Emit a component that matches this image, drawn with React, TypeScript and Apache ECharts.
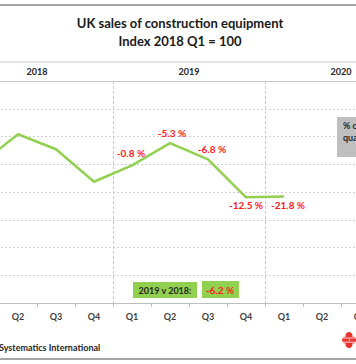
import React, { useEffect, useRef } from 'react';
import * as echarts from 'echarts';

const quarterLabels = ['Q1', 'Q2', 'Q3', 'Q4', 'Q1', 'Q2', 'Q3', 'Q4', 'Q1', 'Q2', 'Q3', 'Q4'];
const yearLabels = ['2018', '2019', '2020'];
const indexValues: (number | null)[] = [100, 121.6, 110.8, 87.4, 99.2, 115.2, 103.5, 76.2, 76.8, null, null, null];
const changeLabels = ['', '', '', '', '-0.8 %', '-5.3 %', '-6.8 %', '-12.5 %', '-21.8 %', '', '', ''];
const labelPlacement = ['', '', '', '', 'top', 'top', 'top', 'bottom', 'bottom', '', '', ''];
const yMin = 0;
const yMax = 160;
const yInterval = 20;
const titleLines = ['UK sales of construction equipment', 'Index 2018 Q1 = 100'];
const summaryLabel = '2019 v 2018:';
const summaryValue = '-6.2 %';
const noteLines = ['% change on same', 'quarter previous year'];
const footerText = 'Systematics International';

const FONT = 'Lato, "Open Sans", sans-serif';
const GREEN = '#92d050';
const RED = '#ff1a1a';
// the chart canvas extends beyond the visible frame (cropped view)
const OX = 39;
const CHART_W = 456;

export default function App() {
  const ref = useRef<HTMLDivElement>(null);
  useEffect(() => {
    if (!ref.current) return;
    const chart = echarts.init(ref.current, undefined, { renderer: 'svg' });
    const data = indexValues.map((v, i) => {
      const pos = labelPlacement[i];
      if (!pos) return { value: v, label: { show: false } };
      return {
        value: v,
        label: {
          show: true,
          position: pos,
          distance: pos === 'top' ? 5 : 3,
          offset: i === 4 ? [-1, -2] : i === 5 ? [2, 0] : i === 6 ? [4, 0] : i === 8 ? [4, 1] : [0, 0],
        },
      };
    });
    chart.setOption({
      animation: false,
      textStyle: { fontFamily: FONT },
      grid: { left: 0, right: 0, top: 81, bottom: 61, containLabel: false },
      xAxis: [
        {
          type: 'category',
          data: quarterLabels,
          position: 'bottom',
          boundaryGap: true,
          axisLine: { lineStyle: { color: '#bfbfbf', width: 1 } },
          axisTick: { show: true, length: 4, lineStyle: { color: '#bfbfbf' } },
          axisLabel: { margin: 9, fontSize: 9, fontWeight: 'bold', color: '#404040', fontFamily: FONT },
          splitLine: { show: false },
        },
        {
          type: 'category',
          data: yearLabels,
          position: 'top',
          boundaryGap: true,
          axisLine: { show: true, lineStyle: { color: '#c8c8c8', width: 1 } },
          axisTick: { show: false },
          axisLabel: { margin: 5, fontSize: 9, fontWeight: 'bold', color: '#262626', fontFamily: FONT },
          splitLine: { show: true, lineStyle: { color: '#c8c8c8', type: [3, 2], width: 1 } },
        },
      ],
      yAxis: {
        type: 'value',
        min: yMin,
        max: yMax,
        interval: yInterval,
        axisLabel: { show: false },
        axisLine: { show: false },
        axisTick: { show: false },
        splitLine: { lineStyle: { color: '#cfcfcf', type: [2, 2], width: 1 } },
      },
      series: [
        {
          type: 'line',
          xAxisIndex: 0,
          data,
          symbol: 'circle',
          symbolSize: 0,
          showSymbol: true,
          itemStyle: { color: 'rgba(0,0,0,0)' },
          connectNulls: false,
          lineStyle: { color: GREEN, width: 2.5 },
          label: {
            formatter: (p: any) => changeLabels[p.dataIndex],
            color: RED,
            fontSize: 10,
            fontWeight: 'bold',
            fontFamily: FONT,
          },
          z: 5,
        },
      ],
      graphic: [
        { type: 'line', z: 100, shape: { x1: 0, y1: 5, x2: CHART_W, y2: 5 }, style: { stroke: '#a6a6a6', lineWidth: 2 } },
        { type: 'line', z: 100, shape: { x1: 0, y1: 359, x2: CHART_W, y2: 359 }, style: { stroke: '#a6a6a6', lineWidth: 2 } },
        { type: 'line', z: 100, shape: { x1: 0, y1: 62, x2: CHART_W, y2: 62 }, style: { stroke: '#c8c8c8', lineWidth: 1 } },
        {
          type: 'text', z: 100, x: OX + 180, y: 23,
          style: { text: titleLines[0], font: `bold 13px ${FONT}`, fill: '#1a1a1a', textAlign: 'center', textVerticalAlign: 'middle' },
        },
        {
          type: 'text', z: 100, x: OX + 180, y: 41,
          style: { text: titleLines[1], font: `bold 13px ${FONT}`, fill: '#1a1a1a', textAlign: 'center', textVerticalAlign: 'middle' },
        },
        { type: 'rect', z: 100, shape: { x: OX + 337, y: 117, width: 80, height: 40 }, style: { fill: '#bfbfbf' } },
        {
          type: 'text', z: 101, x: OX + 343, y: 125,
          style: { text: noteLines[0], font: `bold 9px ${FONT}`, fill: '#262626', textAlign: 'left', textVerticalAlign: 'middle' },
        },
        {
          type: 'text', z: 101, x: OX + 343, y: 137,
          style: { text: noteLines[1], font: `bold 9px ${FONT}`, fill: '#262626', textAlign: 'left', textVerticalAlign: 'middle' },
        },
        { type: 'rect', z: 100, shape: { x: OX + 133, y: 282, width: 64, height: 16 }, style: { fill: GREEN } },
        {
          type: 'text', z: 101, x: OX + 165, y: 290,
          style: { text: summaryLabel, font: `bold 9px ${FONT}`, fill: '#262626', textAlign: 'center', textVerticalAlign: 'middle' },
        },
        { type: 'rect', z: 100, shape: { x: OX + 202, y: 281, width: 37, height: 17 }, style: { fill: GREEN } },
        {
          type: 'text', z: 101, x: OX + 220, y: 290,
          style: { text: summaryValue, font: `bold 10px ${FONT}`, fill: RED, textAlign: 'center', textVerticalAlign: 'middle' },
        },
        {
          type: 'text', z: 100, x: OX - 1, y: 347,
          style: { text: footerText, font: `bold 9px ${FONT}`, fill: '#262626', textAlign: 'left', textVerticalAlign: 'middle' },
        },
        {
          type: 'group', z: 100, x: OX,
          children: [
            { type: 'circle', shape: { cx: 349, cy: 335.5, r: 3.5 }, style: { fill: '#e8332f' } },
            { type: 'circle', shape: { cx: 345.5, cy: 340, r: 3.5 }, style: { fill: '#e8332f' } },
            { type: 'circle', shape: { cx: 353, cy: 340, r: 3.5 }, style: { fill: '#e8332f' } },
            { type: 'circle', shape: { cx: 349, cy: 344.5, r: 3.5 }, style: { fill: '#e8332f' } },
            { type: 'line', shape: { x1: 341, y1: 338, x2: 358, y2: 338 }, style: { stroke: '#ffffff', lineWidth: 0.8 } },
            { type: 'line', shape: { x1: 341, y1: 342.2, x2: 358, y2: 342.2 }, style: { stroke: '#ffffff', lineWidth: 0.8 } },
          ],
        },
      ],
    });
    return () => chart.dispose();
  }, []);
  return (
    <div style={{ position: 'absolute', left: 0, top: 0, width: 356, height: 364, overflow: 'hidden', background: '#fff' }}>
      <div ref={ref} style={{ position: 'absolute', left: -OX, top: 0, width: CHART_W, height: 364 }} />
    </div>
  );
}
